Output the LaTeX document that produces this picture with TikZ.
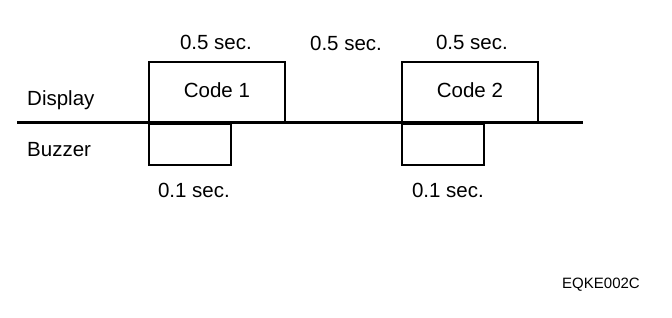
\documentclass[tikz,border=0pt]{standalone}
\usepackage{fontspec}
\setmainfont{Liberation Sans}
\usetikzlibrary{positioning}

\begin{document}
\begin{tikzpicture}[
  x=1pt, y=-1pt,
  node distance=11pt and 0pt,
  pulse/.style={rectangle, draw, line width=1.8pt, inner sep=0pt,
                font=\fontsize{20.5}{24}\selectfont},
  dispbox/.style={pulse, minimum width=136pt, minimum height=60pt,
                  text depth=5pt, anchor=south west},
  buzzbox/.style={pulse, minimum width=82pt, minimum height=41pt,
                  anchor=north west},
  lbl/.style={inner sep=0pt, font=\fontsize{20.5}{24}\selectfont},
  timeline/.style={line width=3pt}
]
  \useasboundingbox (0,0) rectangle (672,318);

  % time line shared by display and buzzer
  \coordinate (tstart) at (17,123);
  \coordinate (tend) at (583,123);
  \draw[timeline] (tstart) -- (tend);

  \node[dispbox] (code1) at (148,123) {Code 1};
  \node[buzzbox] (buzz1) at (148,123) {};
  \node[dispbox] (code2) at (401,123) {Code 2};
  \node[buzzbox] (buzz2) at (401,123) {};

  \node[lbl, anchor=west] (display) at (27,100) {Display};
  \node[lbl, anchor=west] (buzzer) at (27,150) {Buzzer};

  % durations
  \node[lbl, above=of code1, xshift=-1pt] (on1) {0.5 sec.};
  \node[lbl] (pause) at (346,43) {0.5 sec.};
  \node[lbl, above=of code2, xshift=2pt] (on2) {0.5 sec.};
  \node[lbl, below=17pt of buzz1, xshift=4pt] (beep1) {0.1 sec.};
  \node[lbl, below=17pt of buzz2, xshift=5pt] (beep2) {0.1 sec.};

  \node[inner sep=0pt, font=\fontsize{15}{18}\selectfont] (figid) at (601,285) {EQKE002C};
\end{tikzpicture}
\end{document}
